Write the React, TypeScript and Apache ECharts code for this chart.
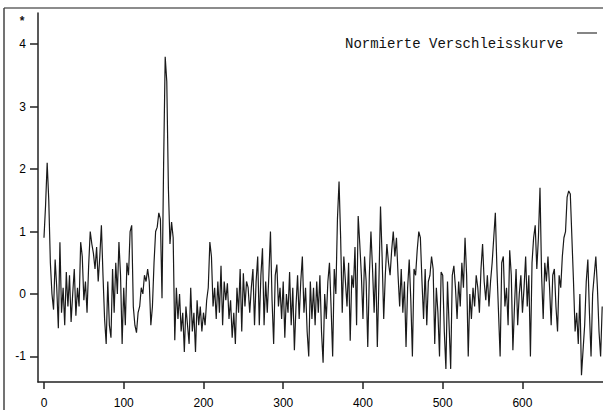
import React, { useEffect, useRef } from "react";
import * as echarts from "echarts";

// x positions run from 0 in steps of 2
const X_STEP = 2;
const wear000 = [0.9, 1.42, 2.1, 1.5, 0.5, 0.0, -0.25, 0.55, 0.1, -0.55,
  0.83, -0.3, 0.1, -0.5, 0.35, -0.2, 0.3, -0.45, 0.0, 0.4,
  -0.35, 0.1, -0.2, 0.83, 0.6, -0.1, 0.2, -0.3, 0.45, 1.0,
  0.8, 0.65, 0.4, 0.75, 0.2, 0.6, 1.1, 0.3, -0.4, -0.8,
  0.2, -0.5, -0.7, 0.4, -0.3, 0.5, 0.0, 0.83, 0.3, -0.8];
const wear100 = [0.1, -0.5, 0.5, 0.3, 1.0, 1.1, -0.2, -0.5, -0.62, -0.3,
  -0.2, 0.1, 0.0, 0.3, 0.2, 0.4, 0.2, -0.5, -0.2, 0.5,
  1.0, 1.07, 1.3, 1.2, -0.07, 2.06, 3.8, 3.4, 1.7, 0.8,
  1.15, 0.9, -0.74, 0.1, -0.4, 0.0, -0.6, -0.3, -0.93, -0.2,
  -0.5, -0.8, 0.1, -0.6, -0.3, -0.93, -0.1, -0.5, -0.2, -0.6];
const wear200 = [-0.3, -0.5, -0.1, 0.1, 0.83, 0.6, -0.2, 0.1, -0.4, 0.2,
  -0.3, 0.45, -0.5, 0.2, -0.1, 0.17, -0.4, -0.1, -0.7, -0.3,
  -0.8, 0.1, -0.3, 0.4, -0.6, 0.33, -0.2, 0.2, 0.1, -0.3,
  0.1, 0.4, -0.5, 0.2, 0.6, -0.5, 0.3, 0.73, -0.5, 0.2,
  -0.3, 0.3, 1.0, -0.1, -0.8, 0.3, 0.47, -0.2, 0.1, -0.4];
const wear300 = [0.2, -0.7, 0.0, -0.3, 0.35, -0.5, 0.1, -0.9, -0.2, 0.3,
  -0.4, 0.2, 0.6, -0.3, 0.1, -0.6, -1.0, 0.2, -0.4, 0.1,
  -0.5, 0.2, -0.3, 0.3, -0.6, -1.1, 0.0, -0.4, 0.2, 0.5,
  -0.2, -1.0, 0.4, 0.0, 1.2, 1.8, 0.9, -0.3, 0.6, 0.2,
  -0.2, 0.5, -0.75, 0.3, 0.1, 0.75, -0.5, 1.25, 0.8, 0.3];
const wear400 = [-0.4, 0.6, 0.2, -0.85, 0.3, 1.0, 0.4, -0.3, 0.5, -0.85,
  0.2, 1.4, 0.6, -0.4, 0.3, 0.8, 0.5, 0.3, 0.7, 1.0,
  0.6, 0.9, 0.3, -0.2, 0.4, -0.3, 0.2, -0.85, 0.1, 0.55,
  -0.1, -1.0, 0.4, 0.3, 0.7, 1.0, 0.9, 0.2, -0.4, 0.4,
  -0.5, 0.2, 0.3, 0.6, 0.4, -0.8, 0.1, -0.3, -1.0, 0.35];
const wear500 = [0.3, -0.6, -1.2, 0.2, -0.5, -1.2, 0.3, 0.45, 0.1, -0.4,
  0.2, -0.2, 0.5, 0.1, 0.9, 0.3, -1.0, 0.0, -0.4, 0.1,
  -0.2, 0.3, 0.1, -0.3, 0.4, 0.8, 0.2, -0.1, 0.3, -0.2,
  0.2, 0.5, 0.9, 1.3, 0.4, -0.3, -1.0, 0.5, 0.6, -0.2,
  0.1, -0.5, 0.7, 0.3, -0.9, -0.2, 0.4, -0.5, 0.0, 0.3];
const wear600 = [-0.3, 0.1, 0.6, -0.2, 0.3, -1.0, 0.5, 0.9, 1.1, 0.4,
  0.9, 1.7, 0.3, -0.4, 0.5, 0.2, 0.6, 0.1, -0.5, 0.3,
  0.4, -0.2, -0.6, 0.3, 0.1, 0.6, 0.9, 1.0, 1.55, 1.65,
  1.6, 0.9, 0.2, -0.6, -0.3, -0.8, 0.0, -1.3, -0.9, -0.5,
  0.2, 0.55, -0.3, -1.0, 0.0, 0.3, 0.6, 0.1, -0.6, -1.0,
  -0.2];

const xTicks = [0, 100, 200, 300, 400, 500, 600];
const yTicks = [-1, 0, 1, 2, 3, 4];
const seriesName = "Normierte Verschleisskurve";

export default function App() {
  const ref = useRef<HTMLDivElement>(null);
  useEffect(() => {
    if (!ref.current) return;
    const chart = echarts.init(ref.current, null, { renderer: "svg" });
    const values = [...wear000, ...wear100, ...wear200, ...wear300, ...wear400, ...wear500, ...wear600];
    const data = values.map((v, i) => [i * X_STEP, v]);
    const labelFont = { fontFamily: "Liberation Sans, Arial, sans-serif", fontSize: 12, color: "#000" };
    chart.setOption({
      animation: false,
      backgroundColor: "#fff",
      grid: { left: 38, right: 0, top: 13, bottom: 28, containLabel: false },
      xAxis: {
        type: "value",
        min: -7.5,
        max: 701,
        axisLine: { show: true, onZero: false, lineStyle: { color: "#222", width: 1.5 } },
        axisTick: { show: true, inside: false, length: 7, customValues: xTicks, lineStyle: { color: "#222", width: 1.5 } },
        axisLabel: { ...labelFont, margin: 15, customValues: xTicks },
        splitLine: { show: false },
      },
      yAxis: {
        type: "value",
        min: -1.41,
        max: 4.5,
        axisLine: { show: true, onZero: false, lineStyle: { color: "#222", width: 1.5 } },
        axisTick: { show: true, inside: false, length: 8, customValues: yTicks, lineStyle: { color: "#222", width: 1.5 } },
        axisLabel: { ...labelFont, margin: 12, customValues: yTicks },
        splitLine: { show: false },
      },
      series: [
        {
          name: seriesName,
          type: "line",
          data,
          showSymbol: false,
          lineStyle: { color: "#1a1a1a", width: 1.2 },
        },
      ],
      graphic: [
        { type: "line", shape: { x1: 4, y1: 8, x2: 603, y2: 8 }, style: { stroke: "#666", lineWidth: 1.5 } },
        { type: "line", shape: { x1: 4, y1: 8, x2: 4, y2: 410 }, style: { stroke: "#444", lineWidth: 1.5 } },
        {
          type: "text",
          x: 22,
          y: 21,
          style: { text: "*", fill: "#111", font: "bold 12px Liberation Sans, Arial, sans-serif", textAlign: "center", textVerticalAlign: "middle" },
        },
        {
          type: "text",
          x: 345,
          y: 44,
          style: { text: seriesName, fill: "#111", font: "14px Liberation Mono, Courier New, monospace", textAlign: "left", textVerticalAlign: "middle" },
        },
        { type: "line", shape: { x1: 577, y1: 33, x2: 597, y2: 33 }, style: { stroke: "#333", lineWidth: 1.2 } },
      ],
    });
    return () => chart.dispose();
  }, []);
  return <div ref={ref} style={{ position: "fixed", left: 0, top: 0, width: 603, height: 410 }} />;
}
